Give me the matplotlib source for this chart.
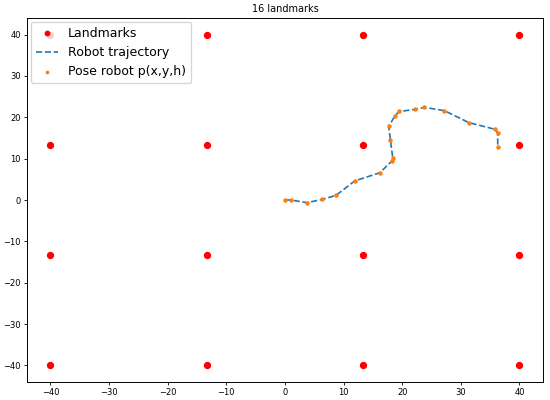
import numpy as np
import matplotlib
matplotlib.use("Agg")
import matplotlib.pyplot as plt

# landmark grid (4 x 4)
lm_coords = [-40, -13.33, 13.33, 40]
lm_x = [x for x in lm_coords for y in lm_coords]
lm_y = [y for x in lm_coords for y in lm_coords]

# robot poses
pose_x = [0.0, 1.0, 3.8, 6.4, 8.7, 11.9, 16.2, 18.3, 18.4, 18.0, 17.7,
          18.8, 19.5, 22.2, 23.8, 27.2, 31.4, 35.8, 36.3, 36.3]
pose_y = [0.0, 0.0, -0.65, 0.16, 1.1, 4.6, 6.6, 9.5, 10.1, 14.5, 17.8,
          20.4, 21.4, 21.9, 22.4, 21.6, 18.7, 17.1, 16.3, 12.7]

fig, ax = plt.subplots(figsize=(5.5, 4), dpi=100)
ax.scatter(lm_x, lm_y, color="red", s=18, label="Landmarks", zorder=3)
ax.plot(pose_x, pose_y, "--", color="C0", lw=1.2, label="Robot trajectory")
ax.scatter(pose_x, pose_y, color="C1", s=5, label="Pose robot p(x,y,h)", zorder=4)
ax.set_title("16 landmarks", fontsize=7, pad=4)
ax.tick_params(labelsize=6, length=2.5, width=0.6, pad=2)
for sp in ax.spines.values():
    sp.set_linewidth(0.7)
ax.set_xticks(np.arange(-40, 41, 10))
ax.set_yticks(np.arange(-40, 41, 10))
ax.legend(loc="upper left", fontsize=9, handletextpad=0.8, borderaxespad=0.3,
          markerscale=0.75, handlelength=1.8)
fig.subplots_adjust(left=0.049, right=0.987, top=0.955, bottom=0.045)
fig.savefig("out.png", dpi=100)
